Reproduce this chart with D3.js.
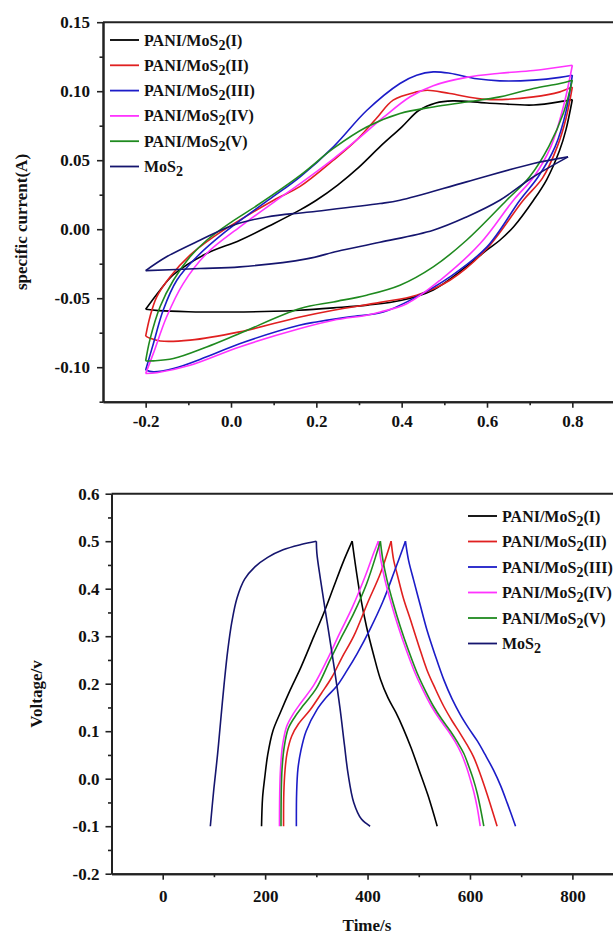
<!DOCTYPE html>
<html><head><meta charset="utf-8">
<script src="https://cdn.jsdelivr.net/npm/d3@7"></script>
<style>
body{margin:0;background:#fff}
svg{display:block}
text{font-family:"Liberation Serif","Times New Roman",serif;font-weight:bold;fill:#111}
</style>
</head><body>
<svg id="c" width="613" height="935"></svg>
<script>
// ---------- shared series info ----------
const seriesLabels = ["I", "II", "III", "IV", "V", "MoS2"];
const seriesColors = ["#000000", "#e02020", "#1c1cc8", "#ff33ff", "#1f8a1f", "#15156e"];

// ---------- CV data: [voltage (V), current (A)] ----------
const cvI_up = [[-0.2,-0.058],[-0.166,-0.044],[-0.135,-0.033],[-0.057,-0.0176],[0.021,-0.008],[0.1,0.004],[0.162,0.014],[0.2,0.021],[0.25,0.032],[0.3,0.045],[0.35,0.06],[0.4,0.074],[0.44,0.086],[0.48,0.0915],[0.52,0.093],[0.6,0.0915],[0.709,0.090],[0.779,0.0928],[0.8,0.094]];
const cvI_dn = [[0.8,0.094],[0.785,0.072],[0.77,0.057],[0.74,0.036],[0.709,0.021],[0.663,0.002],[0.63,-0.008],[0.6,-0.015],[0.552,-0.027],[0.474,-0.044],[0.4,-0.0515],[0.32,-0.055],[0.24,-0.057],[0.16,-0.0587],[0.1,-0.0595],[0.0,-0.060],[-0.1,-0.0598],[-0.17,-0.059],[-0.2,-0.058]];
const cvII_up = [[-0.2,-0.0775],[-0.19,-0.0636],[-0.174,-0.049],[-0.143,-0.0346],[-0.096,-0.0188],[-0.041,-0.0056],[0.02,0.0065],[0.1,0.021],[0.162,0.031],[0.24,0.05],[0.294,0.0645],[0.34,0.08],[0.38,0.0935],[0.435,0.0995],[0.46,0.1007],[0.513,0.0983],[0.6,0.094],[0.709,0.0959],[0.771,0.0995],[0.8,0.103]];
const cvII_dn = [[0.8,0.103],[0.785,0.08],[0.765,0.06],[0.73,0.037],[0.685,0.021],[0.6,-0.014],[0.513,-0.037],[0.435,-0.0478],[0.35,-0.053],[0.24,-0.0587],[0.162,-0.0636],[0.02,-0.0744],[-0.096,-0.0804],[-0.166,-0.081],[-0.19,-0.079],[-0.2,-0.0775]];
const cvIII_up = [[-0.2,-0.102],[-0.182,-0.083],[-0.159,-0.0587],[-0.127,-0.037],[-0.08,-0.020],[-0.018,-0.0031],[0.087,0.021],[0.162,0.038],[0.24,0.0597],[0.318,0.086],[0.396,0.1056],[0.435,0.1116],[0.474,0.114],[0.513,0.113],[0.576,0.109],[0.63,0.1075],[0.709,0.108],[0.771,0.11],[0.8,0.1116]];
const cvIII_dn = [[0.8,0.1116],[0.785,0.085],[0.76,0.06],[0.72,0.038],[0.677,0.021],[0.6,-0.0128],[0.513,-0.0346],[0.435,-0.049],[0.357,-0.06],[0.279,-0.0635],[0.2,-0.0672],[0.16,-0.0696],[0.02,-0.083],[-0.057,-0.0925],[-0.135,-0.101],[-0.182,-0.1034],[-0.2,-0.102]];
const cvIV_up = [[-0.2,-0.1046],[-0.182,-0.090],[-0.151,-0.0636],[-0.112,-0.0394],[-0.057,-0.0176],[0.021,0.0017],[0.107,0.021],[0.162,0.033],[0.24,0.051],[0.294,0.0645],[0.357,0.081],[0.42,0.096],[0.474,0.104],[0.552,0.11],[0.63,0.113],[0.709,0.115],[0.8,0.1188]];
const cvIV_dn = [[0.8,0.1188],[0.78,0.09],[0.75,0.06],[0.71,0.038],[0.662,0.021],[0.584,-0.0104],[0.49,-0.037],[0.412,-0.054],[0.35,-0.06],[0.318,-0.0623],[0.24,-0.066],[0.162,-0.072],[0.02,-0.0853],[-0.096,-0.0986],[-0.174,-0.104],[-0.2,-0.1046]];
const cvV_up = [[-0.2,-0.0955],[-0.19,-0.080],[-0.166,-0.056],[-0.135,-0.037],[-0.096,-0.020],[-0.057,-0.008],[0.0,0.005],[0.06,0.017],[0.162,0.039],[0.24,0.0585],[0.318,0.074],[0.396,0.0838],[0.474,0.0886],[0.552,0.0922],[0.63,0.0959],[0.709,0.102],[0.771,0.1056],[0.8,0.108]];
const cvV_dn = [[0.8,0.108],[0.78,0.085],[0.745,0.06],[0.7,0.038],[0.646,0.021],[0.552,-0.008],[0.474,-0.0273],[0.396,-0.0406],[0.318,-0.0478],[0.24,-0.0527],[0.162,-0.0575],[0.02,-0.0756],[-0.057,-0.0853],[-0.135,-0.0937],[-0.182,-0.0954],[-0.2,-0.0955]];
const cvMoS2_up = [[-0.2,-0.030],[-0.151,-0.020],[-0.073,-0.008],[0.005,0.0029],[0.084,0.0089],[0.185,0.0125],[0.349,0.0186],[0.396,0.021],[0.552,0.0343],[0.709,0.0476],[0.79,0.0524]];
const cvMoS2_dn = [[0.79,0.0524],[0.709,0.038],[0.63,0.021],[0.552,0.0089],[0.474,-0.0007],[0.349,-0.0095],[0.25,-0.016],[0.177,-0.0215],[0.021,-0.0273],[-0.073,-0.0285],[-0.2,-0.030]];

// ---------- GCD data: [time (s), voltage (V)] ----------
const gcdI_ch = [[193,-0.1],[195,-0.04],[199,0.0],[205,0.05],[215,0.1],[230,0.14],[249,0.187],[270,0.235],[295,0.299],[315,0.35],[334,0.404],[352,0.455],[370,0.5]];
const gcdI_dis = [[370,0.5],[375,0.46],[385,0.39],[398,0.32],[412,0.26],[425,0.21],[440,0.17],[455,0.14],[470,0.105],[485,0.065],[500,0.02],[518,-0.035],[536,-0.1]];
const gcdII_ch = [[236,-0.1],[236.5,-0.03],[239,0.02],[243,0.055],[252,0.09],[265,0.115],[288,0.145],[310,0.18],[330,0.213],[350,0.255],[373,0.3],[400,0.37],[425,0.432],[446,0.5]];
const gcdII_dis = [[446,0.5],[451,0.46],[458,0.43],[470,0.38],[484,0.334],[500,0.28],[516,0.229],[532,0.19],[549,0.152],[565,0.122],[581,0.095],[595,0.07],[607,0.046],[620,0.01],[633,-0.031],[653,-0.1]];
const gcdIII_ch = [[261,-0.1],[261.5,-0.03],[264,0.02],[270,0.06],[280,0.1],[301,0.145],[320,0.172],[340,0.195],[360,0.228],[380,0.264],[405,0.315],[430,0.373],[452,0.435],[474,0.5]];
const gcdIII_dis = [[474,0.5],[480,0.46],[490,0.418],[503,0.365],[516,0.313],[532,0.26],[549,0.208],[565,0.168],[581,0.135],[597,0.107],[614,0.08],[630,0.05],[646,0.018],[660,-0.015],[673,-0.052],[689,-0.1]];
const gcdIV_ch = [[228,-0.1],[228.5,-0.03],[230,0.02],[234,0.07],[242,0.11],[254,0.135],[270,0.16],[295,0.197],[321,0.25],[345,0.305],[370,0.36],[395,0.425],[412,0.475],[421,0.5]];
const gcdIV_dis = [[421,0.5],[426,0.46],[434,0.418],[446,0.37],[460,0.32],[476,0.27],[493,0.222],[509,0.185],[525,0.152],[541,0.125],[558,0.1],[571,0.078],[583,0.053],[593,0.025],[601,-0.003],[608,-0.03],[614,-0.06],[620,-0.1]];
const gcdV_ch = [[231,-0.1],[231.5,-0.03],[233,0.02],[237,0.065],[245,0.105],[258,0.13],[275,0.155],[300,0.19],[327,0.25],[350,0.3],[373,0.348],[398,0.41],[418,0.475],[425,0.5]];
const gcdV_dis = [[425,0.5],[430,0.46],[438,0.418],[450,0.37],[464,0.32],[480,0.27],[497,0.222],[513,0.185],[529,0.152],[545,0.125],[562,0.1],[575,0.078],[588,0.053],[598,0.025],[607,-0.003],[614,-0.03],[620,-0.06],[627,-0.1]];
const gcdMoS2_ch = [[93,-0.1],[100,-0.02],[107,0.05],[113,0.12],[120,0.2],[127,0.27],[135,0.33],[145,0.38],[160,0.42],[180,0.446],[205,0.466],[235,0.482],[270,0.493],[300,0.5]];
const gcdMoS2_dis = [[300,0.5],[301,0.475],[308,0.42],[321,0.33],[334,0.24],[346,0.15],[355,0.07],[362,0.01],[373,-0.05],[388,-0.085],[405,-0.1]];

// ---------- ticks ----------
const cvXMajor = [-0.2, 0.0, 0.2, 0.4, 0.6, 0.8];
const cvXMinor = [-0.1, 0.1, 0.3, 0.5, 0.7];
const cvYMajor = [-0.10, -0.05, 0.00, 0.05, 0.10, 0.15];
const cvYMinor = [-0.125, -0.075, -0.025, 0.025, 0.075, 0.125];
const gXMajor = [0, 200, 400, 600, 800];
const gXMinor = [100, 300, 500, 700];
const gYMajor = [-0.2, -0.1, 0.0, 0.1, 0.2, 0.3, 0.4, 0.5, 0.6];
const gYMinor = [-0.15, -0.05, 0.05, 0.15, 0.25, 0.35, 0.45, 0.55];

const cvSeries = [[cvI_up,cvI_dn],[cvII_up,cvII_dn],[cvIII_up,cvIII_dn],[cvIV_up,cvIV_dn],[cvV_up,cvV_dn],[cvMoS2_up,cvMoS2_dn]];
const gcdSeries = [[gcdI_ch,gcdI_dis],[gcdII_ch,gcdII_dis],[gcdIII_ch,gcdIII_dis],[gcdIV_ch,gcdIV_dis],[gcdV_ch,gcdV_dis],[gcdMoS2_ch,gcdMoS2_dis]];

const svg = d3.select("#c");
const dash = f => v => f(v).replace("\u2212", "-");

function panel(o) {
  const g = svg.append("g");
  const x = d3.scaleLinear().domain(o.xd).range(o.xr);
  const y = d3.scaleLinear().domain(o.yd).range(o.yr);
  const line = d3.line().x(d => x(d[0])).y(d => y(d[1])).curve(d3.curveCatmullRom.alpha(0.5));

  o.series.forEach((branches, k) => {
    branches.forEach(b => {
      g.append("path").attr("d", line(b)).attr("fill", "none")
        .attr("stroke", seriesColors[k]).attr("stroke-width", 1.6)
        .attr("stroke-linejoin", "round");
    });
  });

  // frame top
  g.append("line").attr("x1", o.xr[0]).attr("x2", 613).attr("y1", o.yr[1]).attr("y2", o.yr[1])
    .attr("stroke", "#222").attr("stroke-width", 2);

  const styleAx = a => {
    a.selectAll("path.domain").attr("stroke", "#222").attr("stroke-width", 2);
    a.selectAll(".tick line").attr("stroke", "#222").attr("stroke-width", 1.6);
    a.selectAll("text").attr("font-size", 17).attr("fill", "#111")
      .style("font-family", '"Liberation Serif","Times New Roman",serif').style("font-weight", "bold");
  };
  const bY = o.yr[0], lX = o.xr[0];
  const ax1 = g.append("g").attr("transform", `translate(0,${bY})`)
    .call(d3.axisBottom(x).tickValues(o.xMajor).tickSize(6).tickSizeOuter(0).tickPadding(o.xPad).tickFormat(dash(d3.format(o.xFmt))));
  styleAx(ax1);
  const ax2 = g.append("g").attr("transform", `translate(0,${bY})`)
    .call(d3.axisBottom(x).tickValues(o.xMinor).tickSize(3.5).tickSizeOuter(0).tickFormat(""));
  styleAx(ax2);
  const ay1 = g.append("g").attr("transform", `translate(${lX},0)`)
    .call(d3.axisLeft(y).tickValues(o.yMajor).tickSize(6).tickSizeOuter(0).tickPadding(o.yPad).tickFormat(dash(d3.format(o.yFmt))));
  styleAx(ay1);
  const ay2 = g.append("g").attr("transform", `translate(${lX},0)`)
    .call(d3.axisLeft(y).tickValues(o.yMinor).tickSize(3.5).tickSizeOuter(0).tickFormat(""));
  styleAx(ay2);

  // axis titles
  g.append("text").attr("transform", `translate(${o.yTitleX},${o.yTitleY}) rotate(-90)`)
    .attr("text-anchor", "middle").attr("font-size", 17).text(o.yTitle);
  if (o.xTitle) g.append("text").attr("x", o.xTitleX).attr("y", o.xTitleY)
    .attr("text-anchor", "middle").attr("font-size", 17).text(o.xTitle);

  // legend
  seriesLabels.forEach((lab, k) => {
    const cy = o.legY + k * o.legStep;
    g.append("line").attr("x1", o.legX).attr("x2", o.legX + 29).attr("y1", cy).attr("y2", cy)
      .attr("stroke", seriesColors[k]).attr("stroke-width", 1.8);
    const t = g.append("text").attr("x", o.legX + 34).attr("y", cy + 5.5).attr("font-size", 16);
    if (lab === "MoS2") {
      t.append("tspan").text("MoS");
      t.append("tspan").attr("font-size", 14).attr("dy", 4).text("2");
    } else {
      t.append("tspan").text("PANI/MoS");
      t.append("tspan").attr("font-size", 14).attr("dy", 4).text("2");
      t.append("tspan").attr("dy", -4).text("(" + lab + ")");
    }
  });
}

panel({
  series: cvSeries, xd: [-0.3, 0.9], xr: [103, 615], yd: [-0.125, 0.15], yr: [401.7, 22.2],
  xMajor: cvXMajor, xMinor: cvXMinor, yMajor: cvYMajor, yMinor: cvYMinor,
  xFmt: ".1f", yFmt: ".2f", xPad: 7, yPad: 7,
  yTitle: "specific current(A)", yTitleX: 27, yTitleY: 222,
  legX: 110, legY: 40, legStep: 25.3
});

panel({
  series: gcdSeries, xd: [-100, 900], xr: [111.5, 623.6], yd: [-0.2, 0.6], yr: [873.7, 493.7],
  xMajor: gXMajor, xMinor: gXMinor, yMajor: gYMajor, yMinor: gYMinor,
  xFmt: "d", yFmt: ".1f", xPad: 10, yPad: 6,
  yTitle: "Voltage/v", yTitleX: 42, yTitleY: 694,
  xTitle: "Time/s", xTitleX: 367, xTitleY: 931,
  legX: 468, legY: 516, legStep: 25.5
});
</script>
</body></html>
